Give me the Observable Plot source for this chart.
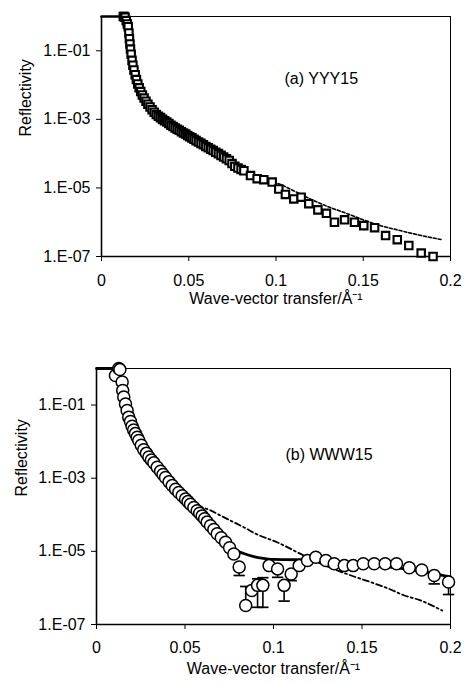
<!DOCTYPE html>
<html>
<head>
<meta charset="utf-8">
<script src="https://cdn.jsdelivr.net/npm/d3@7"></script>
<script src="https://cdn.jsdelivr.net/npm/@observablehq/plot@0.6"></script>
<style>
  html, body { margin: 0; padding: 0; background: white; }
  #chart svg { display: block; }
</style>
</head>
<body>
<div id="chart"></div>
<script>
// ---------- axes ----------
const xTicks = [0, 0.05, 0.1, 0.15, 0.2];
const yTicks = [1e-1, 1e-3, 1e-5, 1e-7];
const xLabel = "Wave-vector transfer/Å⁻¹";
const yLabel = "Reflectivity";
const labelA = "(a) YYY15";
const labelB = "(b) WWW15";

// ---------- panel (a): data (squares), values as log10(reflectivity) ----------
const aQ = [0.0125,0.0130,0.0135,0.0142,0.0148,0.0153,0.0157,0.0160,0.0163,0.0166,0.0170,0.0175,0.0180,0.0186,0.0193,0.0200,0.0208,0.0216,0.0225,0.0234,0.0244,0.0255,0.0266,0.0278,0.0290,0.0302,0.0314,0.0326,0.0338,0.0350,0.0362,0.0374,0.0386,0.0398,0.0410,0.0422,0.0434,0.0446,0.0458,0.0470,0.0482,0.0494,0.0506,0.0518,0.0530,0.0542,0.0556,0.0570,0.0584,0.0598,0.0612,0.0626,0.0640,0.0655,0.0670,0.0685,0.0700,0.0716,0.0732,0.0748,0.0764,0.0782,0.0800,0.0816,0.0854,0.0892,0.0930,0.0978,0.1016,0.1054,0.1102,0.1144,0.1188,0.1240,0.1289,0.1335,0.1393,0.1450,0.1503,0.1565,0.1628,0.1695,0.1761,0.1832,0.1900];
const aLogR = [0,0,-0.02,-0.12,-0.22,-0.30,-0.48,-0.65,-0.80,-0.95,-1.10,-1.28,-1.42,-1.56,-1.70,-1.84,-1.97,-2.08,-2.19,-2.29,-2.38,-2.47,-2.56,-2.64,-2.72,-2.79,-2.86,-2.91,-2.95,-3.00,-3.04,-3.08,-3.12,-3.17,-3.21,-3.25,-3.29,-3.32,-3.36,-3.40,-3.43,-3.47,-3.51,-3.54,-3.58,-3.62,-3.66,-3.70,-3.74,-3.79,-3.83,-3.87,-3.91,-3.96,-4.00,-4.05,-4.10,-4.15,-4.20,-4.29,-4.37,-4.42,-4.46,-4.50,-4.64,-4.73,-4.76,-4.83,-5.03,-5.19,-5.32,-5.27,-5.46,-5.64,-5.74,-6.00,-5.93,-6.00,-6.10,-6.16,-6.39,-6.51,-6.68,-6.90,-7.00];
// panel (a): fits
const aFitSolidQ = [0, 0.0130];
const aFitSolidLogR = [0, 0];
const aFitDashQ = [0.0750,0.0800,0.0850,0.0900,0.0950,0.1016,0.1100,0.1217,0.1300,0.1408,0.1500,0.1600,0.1700,0.1790,0.1870,0.1953];
const aFitDashLogR = [-4.30,-4.45,-4.60,-4.70,-4.78,-4.88,-5.08,-5.37,-5.55,-5.75,-5.93,-6.10,-6.23,-6.34,-6.43,-6.51];

// ---------- panel (b): data (circles) ----------
const bQ = [0.0107,0.0126,0.0132,0.0145,0.0148,0.0154,0.0164,0.0173,0.0182,0.0192,0.0201,0.0210,0.0220,0.0230,0.0239,0.0253,0.0267,0.0282,0.0296,0.0310,0.0324,0.0343,0.0362,0.0376,0.0390,0.0410,0.0428,0.0447,0.0465,0.0484,0.0503,0.0517,0.0531,0.0550,0.0569,0.0583,0.0597,0.0611,0.0625,0.0644,0.0663,0.0682,0.0705,0.0729,0.0752,0.0776,0.0806,0.0843,0.0877,0.0910,0.0940,0.0975,0.1023,0.1060,0.1100,0.1145,0.1192,0.1239,0.1296,0.1343,0.1400,0.1450,0.1507,0.1569,0.1631,0.1695,0.1767,0.1838,0.1908,0.1989];
const bLogR = [-0.19,0,-0.03,-0.37,-0.60,-0.78,-0.97,-1.15,-1.33,-1.45,-1.58,-1.68,-1.78,-1.88,-1.97,-2.10,-2.22,-2.32,-2.42,-2.50,-2.58,-2.70,-2.81,-2.90,-2.98,-3.10,-3.20,-3.30,-3.39,-3.48,-3.57,-3.64,-3.71,-3.80,-3.89,-3.96,-4.03,-4.11,-4.20,-4.30,-4.40,-4.52,-4.63,-4.75,-4.90,-5.07,-5.43,-6.48,-6.07,-5.93,-5.93,-5.39,-5.48,-5.93,-5.62,-5.39,-5.25,-5.16,-5.25,-5.34,-5.39,-5.39,-5.34,-5.34,-5.34,-5.34,-5.45,-5.51,-5.66,-5.84];
// panel (b): error bars
const bErrQ = [0.0806,0.0843,0.0910,0.0940,0.1023,0.1060,0.1100,0.1908,0.1989];
const bErrLoLog = [-5.66,-6.48,-6.53,-6.53,-5.71,-6.36,-5.80,-5.89,-6.18];
const bErrHiLog = [-5.43,-5.96,-5.75,-5.72,-5.48,-5.93,-5.62,-5.66,-5.84];
// panel (b): fits
const bFitSolidQ = [0,0.0120,0.0130,0.0145,0.0160,0.0180,0.0200,0.0250,0.0300,0.0350,0.0400,0.0450,0.0500,0.0550,0.0600,0.0650,0.0700,0.0729,0.0757,0.0800,0.0832,0.0900,0.0955,0.1000,0.1150,0.1200,0.1300,0.1400,0.1500,0.1600,0.1700,0.1800,0.1900,0.2000];
const bFitSolidLogR = [0,0,-0.05,-0.40,-0.90,-1.30,-1.55,-2.05,-2.42,-2.74,-3.04,-3.32,-3.55,-3.78,-4.00,-4.30,-4.55,-4.72,-4.89,-5.00,-5.06,-5.16,-5.20,-5.22,-5.23,-5.25,-5.28,-5.32,-5.36,-5.40,-5.45,-5.52,-5.60,-5.70];
const bFitDashQ = [0.0500,0.0550,0.0600,0.0644,0.0700,0.0795,0.0832,0.0900,0.1020,0.1153,0.1250,0.1360,0.1450,0.1548,0.1650,0.1736,0.1830,0.1953];
const bFitDashLogR = [-3.55,-3.70,-3.80,-3.88,-4.02,-4.25,-4.34,-4.52,-4.75,-5.07,-5.30,-5.52,-5.68,-5.84,-6.02,-6.20,-6.34,-6.62];

// ---------- helpers ----------
const rows = (qs, ls) => qs.map((q, i) => ({q, r: Math.pow(10, ls[i])}));
const fmtY = d => "1.E-" + String(Math.round(-Math.log10(d))).padStart(2, "0");
const capSymbol = {
  draw(ctx, size) {
    const w = Math.sqrt(size);
    ctx.moveTo(-w, 0);
    ctx.lineTo(w, 0);
  }
};
const font = "'Liberation Sans', Arial, sans-serif";

function panel({height, marginTop, marginBottom, marginLeft, tickPadX, ylabDx, xlabDy, ann, annDx, annDy, marks}) {
  return Plot.plot({
    width: 464,
    height,
    marginTop,
    marginBottom,
    marginLeft,
    marginRight: 14,
    style: {fontFamily: font, fontSize: "16px", color: "black", background: "white", overflow: "visible"},
    x: {domain: [0, 0.2]},
    y: {type: "log", domain: [1e-7, 1]},
    marks: [
      Plot.frame({stroke: "black", strokeWidth: 1}),
      Plot.ruleX([0], {stroke: "black", strokeWidth: 1.6}),
      Plot.ruleY([1e-7], {stroke: "black", strokeWidth: 1.6}),
      Plot.axisX({ticks: xTicks, tickFormat: d => String(d), tickSize: 5, tickPadding: tickPadX, label: null}),
      Plot.axisY({ticks: yTicks, tickFormat: fmtY, tickSize: 5, tickPadding: 6, label: null}),
      ...marks,
      Plot.text([yLabel], {text: d => d, frameAnchor: "left", rotate: -90, dx: ylabDx, fontSize: 16}),
      Plot.text([xLabel], {text: d => d, frameAnchor: "bottom", dy: xlabDy, fontSize: 16}),
      Plot.text([ann], {text: d => d, frameAnchor: "top-left", textAnchor: "start", dx: annDx, dy: annDy, fontSize: 16})
    ]
  });
}

const panelA = panel({
  height: 322, marginTop: 16, marginBottom: 66, marginLeft: 101,
  tickPadX: 13, ylabDx: -76, xlabDy: 47, ann: labelA, annDx: 183, annDy: 56,
  marks: [
    Plot.line(rows(aFitSolidQ, aFitSolidLogR), {x: "q", y: "r", stroke: "black", strokeWidth: 2.6}),
    Plot.line(rows(aFitDashQ, aFitDashLogR), {x: "q", y: "r", stroke: "black", strokeWidth: 1.6, strokeDasharray: "3,2", curve: "monotone-x"}),
    Plot.dot(rows(aQ, aLogR), {x: "q", y: "r", symbol: "square", r: 4.2, fill: "white", stroke: "black", strokeWidth: 2.1})
  ]
});

const errRows = bErrQ.map((q, i) => ({q, lo: Math.pow(10, bErrLoLog[i]), hi: Math.pow(10, bErrHiLog[i])}));

const panelB = panel({
  height: 362, marginTop: 46, marginBottom: 60, marginLeft: 96,
  tickPadX: 12, ylabDx: -75, xlabDy: 49, ann: labelB, annDx: 189, annDy: 80,
  marks: [
    Plot.line(rows(bFitSolidQ, bFitSolidLogR), {x: "q", y: "r", stroke: "black", strokeWidth: 2.8, curve: "monotone-x"}),
    Plot.line(rows(bFitDashQ, bFitDashLogR), {x: "q", y: "r", stroke: "black", strokeWidth: 1.8, strokeDasharray: "6,3,2,3", curve: "monotone-x"}),
    Plot.ruleX(errRows, {x: "q", y1: "lo", y2: "hi", stroke: "black", strokeWidth: 1.6}),
    Plot.dot(errRows, {x: "q", y: "lo", symbol: capSymbol, r: 3.2, stroke: "black", strokeWidth: 1.7}),
    Plot.dot(errRows, {x: "q", y: "hi", symbol: capSymbol, r: 3.2, stroke: "black", strokeWidth: 1.7}),
    Plot.dot(rows(bQ, bLogR), {x: "q", y: "r", r: 6, fill: "white", stroke: "black", strokeWidth: 1.5})
  ]
});

const root = document.getElementById("chart");
root.appendChild(panelA);
root.appendChild(panelB);
</script>
</body>
</html>
